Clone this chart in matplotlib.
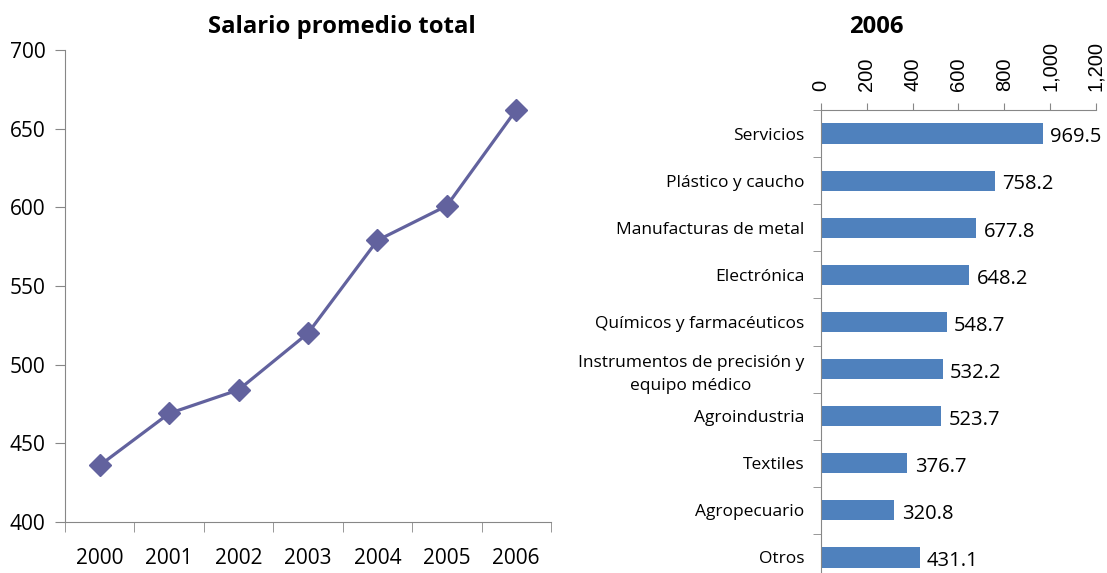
import numpy as np
import matplotlib.pyplot as plt
from matplotlib.ticker import FuncFormatter

plt.rcParams['font.family'] = ['Open Sans', 'DejaVu Sans']

# Datos
years = ['2000', '2001', '2002', '2003', '2004', '2005', '2006']
salario = [436, 469, 484, 520, 579, 601, 662]

sectores = ['Servicios', 'Plástico y caucho', 'Manufacturas de metal', 'Electrónica',
            'Químicos y farmacéuticos', 'Instrumentos de precisión y\nequipo médico',
            'Agroindustria', 'Textiles', 'Agropecuario', 'Otros']
valores_2006 = [969.5, 758.2, 677.8, 648.2, 548.7, 532.2, 523.7, 376.7, 320.8, 431.1]

grey = '#878787'
line_color = '#62629E'
bar_color = '#4F81BD'

fig = plt.figure(figsize=(11.07, 5.73), dpi=100)

# Gráfico de línea
ax1 = fig.add_axes([0.0587, 0.0890, 0.4390, 0.8237])
x = np.arange(len(years))
ax1.plot(x, salario, color=line_color, lw=2.3, marker='D', ms=11)
ax1.set_xlim(-0.5, len(years) - 0.5)
ax1.set_ylim(400, 700)
ax1.set_yticks(range(400, 701, 50))
ax1.set_xticks(x)
ax1.set_xticklabels(years)
ax1.set_xticks(np.arange(-0.5, len(years), 1), minor=True)
ax1.tick_params(axis='x', which='major', length=0, pad=19, labelsize=15)
ax1.tick_params(axis='x', which='minor', length=7, color=grey, direction='out')
ax1.tick_params(axis='y', length=7, color=grey, labelsize=15, pad=7)
for s in ['top', 'right']:
    ax1.spines[s].set_visible(False)
for s in ['left', 'bottom']:
    ax1.spines[s].set_color(grey)
fig.text(342 / 1107, 1 - 27 / 573, 'Salario promedio total', ha='center', va='center',
         fontsize=17.2, fontweight='bold')

# Gráfico de barras
ax2 = fig.add_axes([0.7416, -0.0140, 0.2484, 0.8220])
y = np.arange(len(sectores))
ax2.barh(y, valores_2006, height=0.43, color=bar_color)
ax2.set_ylim(len(sectores) - 0.5, -0.5)
ax2.set_xlim(0, 1200)
ax2.set_xticks(range(0, 1201, 200))
ax2.xaxis.set_major_formatter(FuncFormatter(lambda v, p: f'{int(v):,}'))
ax2.xaxis.tick_top()
ax2.tick_params(axis='x', length=5, color=grey, labelsize=14.5, labelrotation=90, pad=9)
for lbl in ax2.get_xticklabels():
    lbl.set_family(['Liberation Sans', 'DejaVu Sans'])
ax2.set_yticks(y)
ax2.set_yticklabels(sectores, multialignment='center', linespacing=1.55)
ax2.set_yticks(np.arange(-0.5, len(sectores), 1), minor=True)
ax2.tick_params(axis='y', which='major', length=0, pad=12, labelsize=12.5)
ax2.tick_params(axis='y', which='minor', length=6, color=grey, direction='out')
for s in ['bottom', 'right']:
    ax2.spines[s].set_visible(False)
for s in ['left', 'top']:
    ax2.spines[s].set_color(grey)
for yi, v in zip(y, valores_2006):
    ax2.text(v + 32, yi + 0.08, f'{v:.1f}', va='center', ha='left', fontsize=14.5)
fig.text(876 / 1107, 1 - 27 / 573, '2006', ha='center', va='center',
         fontsize=17.2, fontweight='bold')

fig.savefig('out.png', dpi=100)
